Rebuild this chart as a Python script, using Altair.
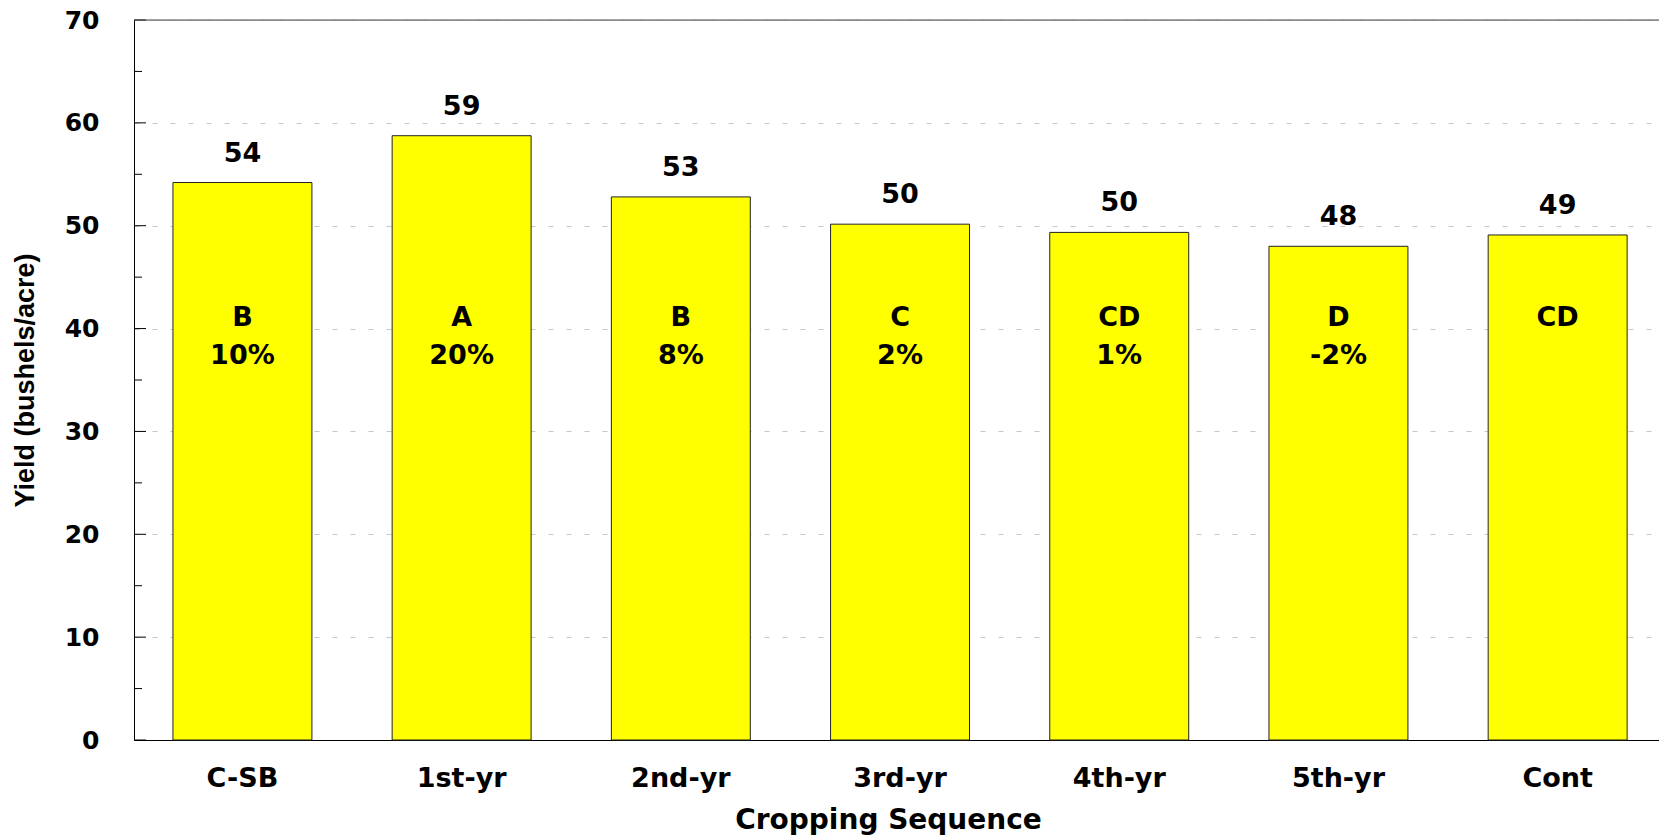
import altair as alt
import pandas as pd

categories = ["C-SB", "1st-yr", "2nd-yr", "3rd-yr", "4th-yr", "5th-yr", "Cont"]
yields = [54.2, 58.75, 52.8, 50.15, 49.35, 48.0, 49.1]
value_labels = ["54", "59", "53", "50", "50", "48", "49"]
letters = ["B", "A", "B", "C", "CD", "D", "CD"]
percents = ["10%", "20%", "8%", "2%", "1%", "-2%", ""]
major_ticks = [0, 10, 20, 30, 40, 50, 60, 70]
minor_ticks = [5, 15, 25, 35, 45, 55, 65]

df = pd.DataFrame({
    "cat": categories,
    "yield": yields,
    "vlabel": value_labels,
    "letter": letters,
    "pct": percents,
})
major_df = pd.DataFrame({"yield": major_ticks})
minor_df = pd.DataFrame({"yield": minor_ticks})

W, H = 1525, 720
FONT = "DejaVu Sans"

x_scale = alt.Scale(paddingInner=0.366, paddingOuter=0.1615, align=0.55)
y_scale = alt.Scale(domain=[0, 70], nice=False)

x_enc = alt.X(
    "cat:N", sort=categories, scale=x_scale,
    axis=alt.Axis(
        title="Cropping Sequence", labelAngle=0, ticks=False, labelPadding=38,
        labelBaseline="middle", labelFont=FONT, labelFontSize=27,
        labelFontWeight="bold", labelColor="black", domainColor="black",
        domainWidth=1, titleFont=FONT, titleFontSize=28, titleFontWeight="bold",
        titleColor="black", titleX=754, titleY=80, titleBaseline="middle",
        titleAlign="center", grid=False,
    ),
)
y_enc = alt.Y(
    "yield:Q", scale=y_scale,
    axis=alt.Axis(
        title="Yield (bushels/acre)", values=major_ticks, ticks=False,
        labelPadding=35, labelFont=FONT, labelFontSize=25, labelFontWeight="bold",
        labelColor="black", domainColor="black", domainWidth=1, grid=True,
        gridDash=[5, 13], gridColor="#c8c8c8", gridWidth=1,
        titleFont="Liberation Sans", titleFontSize=27, titleFontWeight="bold",
        titleColor="black", titleAngle=-90, titleX=-109, titleY=360,
        titleAlign="center", titleBaseline="middle",
    ),
)

x_plain = alt.X("cat:N", sort=categories)
y_plain = alt.Y("yield:Q")

bars = alt.Chart(df).mark_bar(
    color="#FFFF00", stroke="#222222", strokeWidth=1
).encode(x=x_enc, y=y_enc)

values = alt.Chart(df).mark_text(
    dy=-29, baseline="middle", align="center", font=FONT, fontSize=27,
    fontWeight="bold", color="black"
).encode(x=x_plain, y=y_plain, text="vlabel:N")

letter_text = alt.Chart(df).mark_text(
    baseline="middle", align="center", font=FONT, fontSize=27,
    fontWeight="bold", color="black"
).encode(x=x_plain, y=alt.datum(41.0), text="letter:N")

pct_text = alt.Chart(df).mark_text(
    baseline="middle", align="center", font=FONT, fontSize=27,
    fontWeight="bold", color="black"
).encode(x=x_plain, y=alt.datum(37.3), text="pct:N")

major = alt.Chart(major_df).mark_rule(color="black", strokeWidth=1).encode(
    y=y_plain, x=alt.value(0), x2=alt.value(12)
)
minor = alt.Chart(minor_df).mark_rule(color="black", strokeWidth=1).encode(
    y=y_plain, x=alt.value(0), x2=alt.value(8)
)
top_line = alt.Chart(pd.DataFrame({"yield": [70]})).mark_rule(
    color="#444444", strokeWidth=1
).encode(y=y_plain, x=alt.value(0), x2=alt.value(W))

chart = alt.layer(
    bars, major, minor, top_line, values, letter_text, pct_text
).properties(
    width=W, height=H,
    autosize=alt.AutoSizeParams(type="none"),
    padding={"left": 134, "top": 20, "right": 0, "bottom": 98},
).configure_view(stroke=None).configure(background="white")

chart.save("out.html", embed_options={"renderer": "svg", "actions": False})
